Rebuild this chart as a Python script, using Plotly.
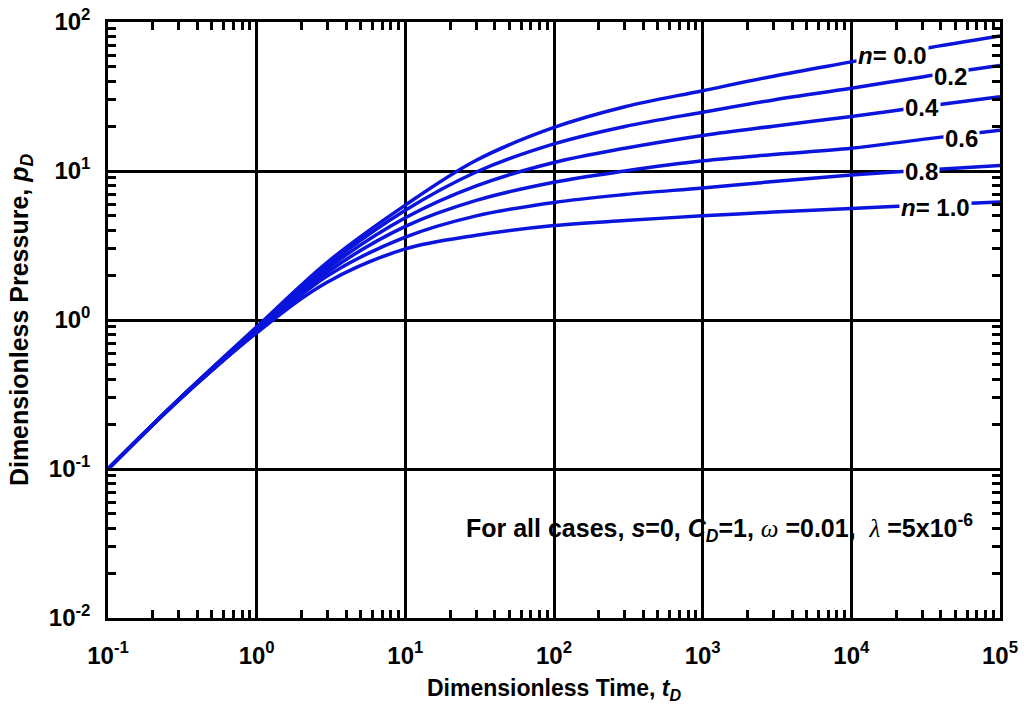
import plotly.graph_objects as go

# Dimensionless time (x) sample points (half-decade spacing)
t_D = [0.1, 0.3, 1, 3, 10, 30, 100, 300, 1000, 3000, 1e4, 3e4, 1e5]

# Dimensionless pressure for each power-law index n
p_n00 = [0.1, 0.295, 0.90, 2.45, 5.9, 11.8, 19.6, 27.0, 34.6, 43.3, 54.0, 66.0, 80.5]
p_n02 = [0.1, 0.294, 0.88, 2.33, 5.45, 9.85, 15.2, 19.9, 24.8, 30.0, 35.9, 42.8, 51.0]
p_n04 = [0.1, 0.293, 0.86, 2.22, 4.85, 7.95, 11.4, 14.2, 17.3, 20.0, 23.2, 27.0, 31.5]
p_n06 = [0.1, 0.292, 0.84, 2.10, 4.25, 6.35, 8.4, 10.0, 11.7, 12.9, 14.2, 16.3, 18.8]
p_n08 = [0.1, 0.291, 0.83, 1.98, 3.60, 5.0, 6.15, 6.95, 7.7, 8.5, 9.4, 10.1, 10.9]
p_n10 = [0.1, 0.290, 0.82, 1.80, 3.00, 3.7, 4.3, 4.65, 5.0, 5.3, 5.6, 5.9, 6.2]

series = [("0.0", p_n00), ("0.2", p_n02), ("0.4", p_n04),
          ("0.6", p_n06), ("0.8", p_n08), ("1.0", p_n10)]

curve_labels = ["<i>n</i>= 0.0", "0.2", "0.4", "0.6", "0.8", "<i>n</i>= 1.0"]

x_tick_vals = [0.1, 1, 10, 100, 1000, 1e4, 1e5]
x_tick_text = ["10<sup>-1</sup>", "10<sup>0</sup>", "10<sup>1</sup>", "10<sup>2</sup>",
               "10<sup>3</sup>", "10<sup>4</sup>", "10<sup>5</sup>"]
y_tick_vals = [0.01, 0.1, 1, 10, 100]
y_tick_text = ["10<sup>-2</sup>", "10<sup>-1</sup>", "10<sup>0</sup>", "10<sup>1</sup>", "10<sup>2</sup>"]

BLUE = "#0a14dc"
FONT = "Liberation Sans, Arial, sans-serif"

fig = go.Figure()
for name, p in series:
    fig.add_trace(go.Scatter(x=t_D, y=p, mode="lines", name="n=" + name,
                             line=dict(color=BLUE, width=3.5, shape="spline", smoothing=1.0),
                             showlegend=False))

def minor_vals(lo, hi):
    vals = []
    e = lo
    while e < hi:
        for k in range(2, 10):
            vals.append(k * 10 ** e)
        e += 1
    return vals

axis_common = dict(
    type="log", automargin=False,
    showline=True, linecolor="black", linewidth=2.5, mirror="ticks",
    showgrid=True, gridcolor="black", gridwidth=2.5,
    ticks="inside", ticklen=8, tickwidth=2.5, tickcolor="black",
    tickmode="array",
    tickfont=dict(family=FONT, size=24, color="black", weight="bold"),
    zeroline=False,
)

fig.update_xaxes(
    **axis_common,
    range=[-1, 5],
    tickvals=x_tick_vals, ticktext=x_tick_text,
    minor=dict(tickmode="array", tickvals=minor_vals(-1, 5), ticks="inside",
               ticklen=8, tickwidth=2.5, tickcolor="black", showgrid=False),
    ticklabelstandoff=14,
    title=dict(text="Dimensionless Time, <i>t</i><sub><i>D</i></sub>",
               font=dict(family=FONT, size=23, color="black", weight="bold"), standoff=13),
)
fig.update_yaxes(
    **axis_common,
    range=[-2, 2],
    tickvals=y_tick_vals, ticktext=y_tick_text,
    minor=dict(tickmode="array", tickvals=minor_vals(-2, 2), ticks="inside",
               ticklen=8, tickwidth=2.5, tickcolor="black", showgrid=False),
    ticklabelstandoff=10,
    title=dict(text="Dimensionless Pressure, <i>p</i><sub><i>D</i></sub>",
               font=dict(family=FONT, size=25, color="black", weight="bold"), standoff=14),
)

label_pos = [(4.277, 1.778), (4.667, 1.631), (4.472, 1.423),
             (4.741, 1.221), (4.472, 1.0), (4.566, 0.758)]
for txt, (lx, ly) in zip(curve_labels, label_pos):
    fig.add_annotation(x=lx, y=ly, xref="x", yref="y", text=txt, showarrow=False,
                       font=dict(family=FONT, size=24, color="black", weight="bold"),
                       bgcolor="white", borderpad=1)

fig.add_annotation(
    x=0.972, y=0.151, xref="paper", yref="paper", xanchor="right", yanchor="middle",
    text=("For all cases, <i>s</i>=0, <i>C</i><sub><i>D</i></sub>=1, "
          "<span style='font-family:Liberation Serif;font-weight:normal'><i>ω</i></span> =0.01,  "
          "<span style='font-family:Liberation Serif;font-weight:normal'><i>λ</i></span> =5x10<sup>-6</sup>"),
    showarrow=False, font=dict(family=FONT, size=25, color="black", weight="bold"),
)

fig.update_layout(
    template="none",
    width=1024, height=708,
    margin=dict(l=108, r=24, t=22, b=90),
    paper_bgcolor="white", plot_bgcolor="white",
    font=dict(family=FONT, color="black"),
)

fig.write_html("out.html")
